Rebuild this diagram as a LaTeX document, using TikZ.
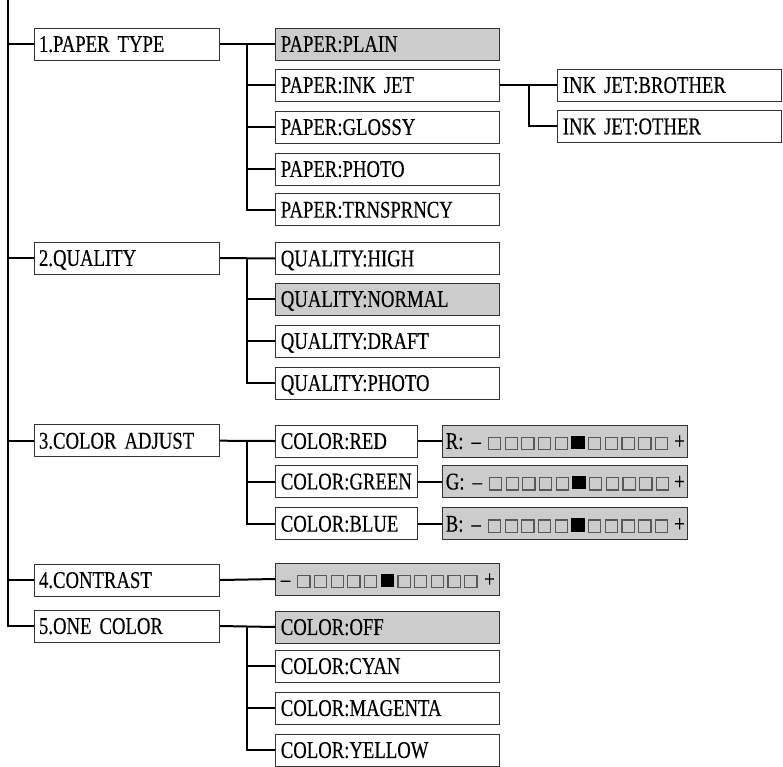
\documentclass[tikz,border=0pt]{standalone}
\usepackage{fontspec}
\setmainfont{Liberation Serif}[FakeStretch=0.78,FakeBold=0.3,WordSpace=0.8]
\definecolor{boxgray}{gray}{0.8}
\definecolor{edgegray}{gray}{0.2}
\definecolor{sqgray}{gray}{0.35}
\newcommand{\emptysq}{{\color{sqgray}\fboxsep=0pt\fboxrule=1.2pt\fbox{\rule{0pt}{11pt}\rule{11pt}{0pt}}}}
\newcommand{\fullsq}{\rule{13.4pt}{13.4pt}}
\newcommand{\gauge}{–\hspace{7pt}\emptysq\hspace{3.3pt}\emptysq\hspace{3.3pt}\emptysq\hspace{3.3pt}\emptysq\hspace{3.3pt}\emptysq\hspace{3.3pt}\fullsq\hspace{3.3pt}\emptysq\hspace{3.3pt}\emptysq\hspace{3.3pt}\emptysq\hspace{3.3pt}\emptysq\hspace{3.3pt}\emptysq\hfill+}
\begin{document}
\begin{tikzpicture}[x=1pt,y=-1pt,
  menu/.style={draw=edgegray,line width=1pt,anchor=west,minimum height=32pt,
    inner xsep=5pt,inner ysep=0pt,text height=15.9pt,text depth=0pt,align=left,
    font=\fontsize{24}{26}\selectfont},
  top/.style={menu,text width=175.5pt},
  item/.style={menu,text width=214pt},
  short/.style={menu,text width=132pt},
  bar/.style={menu,fill=boxgray,inner xsep=3pt,text width=239pt},
  sel/.style={fill=boxgray},
  conn/.style={line width=2pt}]
\useasboundingbox (0,0) rectangle (783,766);
% main menu
\node[top] (papertype) at (33.5,44) {1.PAPER TYPE};
\node[top] (quality) at (33.5,258) {2.QUALITY};
\node[top] (coloradj) at (33.5,440.7) {3.COLOR ADJUST};
\node[top] (contrast) at (33.5,580) {4.CONTRAST};
\node[top] (onecolor) at (33.5,626) {5.ONE COLOR};
% paper type
\node[item,sel] (plain) at (275.3,44) {PAPER:PLAIN};
\node[item] (inkjet) at (275.3,85) {PAPER:INK JET};
\node[item] (glossy) at (275.3,127) {PAPER:GLOSSY};
\node[item] (photo) at (275.3,169) {PAPER:PHOTO};
\node[item] (trans) at (275.3,209.7) {PAPER:TRNSPRNCY};
\node[item] (brother) at (557.3,85) {INK JET:BROTHER};
\node[item] (other) at (557.3,126.3) {INK JET:OTHER};
% quality
\node[item] (high) at (275.3,258.5) {QUALITY:HIGH};
\node[item,sel] (normal) at (275.3,299) {QUALITY:NORMAL};
\node[item] (draft) at (275.3,341) {QUALITY:DRAFT};
\node[item] (qphoto) at (275.3,383) {QUALITY:PHOTO};
% color adjust
\node[short] (red) at (275.3,441) {COLOR:RED};
\node[short] (green) at (275.3,481.5) {COLOR:GREEN};
\node[short] (blue) at (275.3,523.7) {COLOR:BLUE};
\node[bar] (rbar) at (442.3,441) {R:\hspace{8pt}\gauge};
\node[bar] (gbar) at (442.3,481.5) {G:\hspace{8pt}\gauge};
\node[bar] (bbar) at (442.3,523.7) {B:\hspace{8pt}\gauge};
% contrast
\node[item,fill=boxgray] (cbar) at (275.3,579) {\gauge};
% one color
\node[item,sel] (off) at (275.3,627) {COLOR:OFF};
\node[item] (cyan) at (275.3,666) {COLOR:CYAN};
\node[item] (magenta) at (275.3,708) {COLOR:MAGENTA};
\node[item] (yellow) at (275.3,750) {COLOR:YELLOW};
% trunk
\coordinate (trunk) at (7.5,0);
\draw[conn] (trunk) |- (onecolor.west);
\foreach \n in {papertype,quality,coloradj,contrast}
  \draw[conn] (trunk |- \n.west) -- (\n.west);
% branches
\draw[conn] (papertype.east) -- (plain.west);
\draw[conn] (plain.west) ++(-28.5,0) coordinate (pj) |- (trans.west);
\foreach \n in {inkjet,glossy,photo}
  \draw[conn] (pj |- \n.west) -- (\n.west);
\draw[conn] (inkjet.east) -- (brother.west);
\draw[conn] (brother.west) ++(-28.3,0) coordinate (ij) |- (other.west);
\draw[conn] (quality.east) -- (high.west);
\draw[conn] (high.west) ++(-28.5,0) coordinate (qj) |- (qphoto.west);
\foreach \n in {normal,draft}
  \draw[conn] (qj |- \n.west) -- (\n.west);
\draw[conn] (coloradj.east) -- (red.west);
\draw[conn] (red.west) ++(-28.5,0) coordinate (cj) |- (blue.west);
\draw[conn] (cj |- green.west) -- (green.west);
\draw[conn] (red.east) -- (rbar.west);
\draw[conn] (green.east) -- (gbar.west);
\draw[conn] (blue.east) -- (bbar.west);
\draw[conn] (contrast.east) -- (cbar.west);
\draw[conn] (onecolor.east) -- (off.west);
\draw[conn] (off.west) ++(-28.5,0) coordinate (oj) |- (yellow.west);
\foreach \n in {cyan,magenta}
  \draw[conn] (oj |- \n.west) -- (\n.west);
\end{tikzpicture}
\end{document}
